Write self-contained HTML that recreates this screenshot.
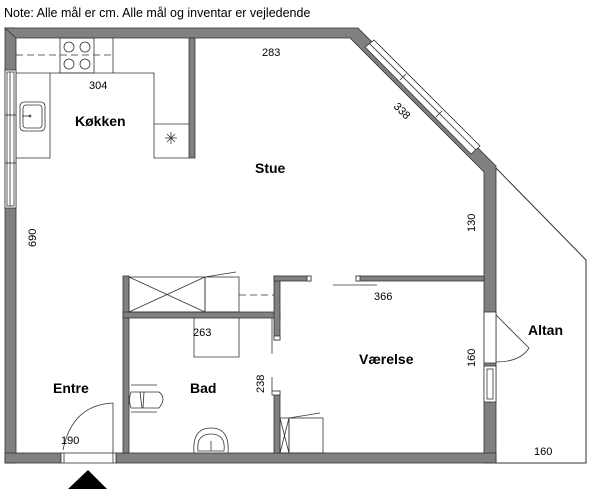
<!DOCTYPE html>
<html><head><meta charset="utf-8"><style>
html,body{margin:0;padding:0;background:#fff;width:600px;height:494px;overflow:hidden}
svg{display:block}
text{font-family:"Liberation Sans",sans-serif;fill:#000}
.b{font-weight:bold;font-size:14px}
.s{font-size:11px}
</style></head><body>
<svg width="600" height="494" viewBox="0 0 600 494" xmlns="http://www.w3.org/2000/svg">
<text x="4" y="17" font-size="12.5">Note: Alle mål er cm. Alle mål og inventar er vejledende</text>
<g fill="#808080" stroke="#333" stroke-width="0.8">
<!-- outer walls -->
<rect x="5" y="28" width="11" height="435"/>
<polygon points="5,28 358,28 496,166 496,463 484,463 484,172 350,38 16,38"/>
<rect x="5" y="453" width="56" height="10"/>
<rect x="116" y="453" width="380" height="10"/>
<!-- kitchen wall -->
<rect x="189" y="38" width="6" height="120"/>
<!-- interior -->
<rect x="123" y="276" width="6" height="177"/>
<rect x="123" y="312" width="157" height="6"/>
<rect x="274" y="276" width="6" height="64"/>
<rect x="274" y="276" width="37" height="5"/>
<rect x="274" y="391" width="6" height="62"/>
<rect x="356" y="276" width="128" height="5"/>
</g>
<!-- windows -->
<g fill="#fff" stroke="#333" stroke-width="0.8">
<rect x="5" y="70" width="11" height="138"/>
<rect x="7" y="72" width="7" height="134"/>
<rect x="484" y="312" width="12" height="51"/>
<rect x="484" y="366" width="12" height="36"/>
<rect x="487" y="369" width="6" height="30"/>
<rect x="61" y="453" width="55" height="10"/>
<polygon points="365,47 374,40 480,146 471,154"/>
<rect x="272" y="391" width="8" height="4"/>
<rect x="274" y="336" width="6" height="4"/>
<rect x="307" y="276" width="4" height="5"/>
<rect x="356" y="276" width="4" height="5"/>
</g>
<g stroke="#333" stroke-width="0.8" fill="none">
<line x1="10" y1="72" x2="10" y2="206"/>
<line x1="5" y1="115" x2="16" y2="115"/><line x1="5" y1="163" x2="16" y2="163"/>
<line x1="369" y1="43" x2="476" y2="150"/>
<line x1="64" y1="453" x2="64" y2="463"/><line x1="113" y1="453" x2="113" y2="463"/>
<line x1="400" y1="80" x2="406" y2="74"/><line x1="436" y1="117" x2="442" y2="111"/>
<!-- kitchen -->
<polyline points="16,73 50,73 50,158 16,158"/>
<polyline points="50,73 154,73 154,158 189,158"/>
<line x1="154" y1="124" x2="189" y2="124"/>
<line x1="113" y1="38" x2="113" y2="73"/>
<rect x="60" y="38" width="34" height="35"/>
<line x1="16" y1="55" x2="113" y2="55" stroke-dasharray="7,4"/>
<circle cx="69" cy="47" r="5"/><circle cx="85" cy="47" r="5"/>
<circle cx="69" cy="64" r="5"/><circle cx="85" cy="64" r="5"/>
<rect x="20" y="102" width="25" height="29" rx="4"/>
<rect x="23" y="105" width="19" height="23" rx="3"/>
<line x1="22" y1="116" x2="30" y2="116"/><circle cx="30" cy="116" r="1"/>
<line x1="165" y1="138" x2="177" y2="138"/><line x1="171" y1="132" x2="171" y2="144"/>
<line x1="167" y1="134" x2="175" y2="142"/><line x1="175" y1="134" x2="167" y2="142"/>
<!-- storage over bad -->
<rect x="129" y="277" width="76" height="35"/>
<line x1="129" y1="277" x2="205" y2="312"/><line x1="205" y1="277" x2="129" y2="312"/>
<rect x="205" y="277" width="34" height="35"/>
<line x1="205" y1="277" x2="236" y2="272"/>
<line x1="239" y1="295" x2="274" y2="295" stroke-dasharray="7,4"/>
<polyline points="194,318 194,357 239,357 239,318"/>
<line x1="272" y1="318" x2="272" y2="354"/>
<line x1="272" y1="377" x2="272" y2="391"/>
<line x1="333" y1="285" x2="377" y2="285"/>
<!-- bad fixtures -->
<path d="M131,392 L159,392 Q167,398 159,408 L131,408 Q128,400 131,392 Z"/>
<line x1="131" y1="385" x2="157" y2="385"/><line x1="131" y1="412" x2="157" y2="412"/>
<line x1="140" y1="392" x2="142" y2="408"/><line x1="144" y1="392" x2="143" y2="408"/>
<path d="M194,453 Q192,428 211,428 Q230,428 228,453"/>
<path d="M198,451 Q196,434 211,434 Q226,434 224,451 Z"/>
<line x1="211" y1="441" x2="211" y2="451"/>
<rect x="280" y="418" width="9" height="35"/>
<line x1="280" y1="418" x2="289" y2="453"/><line x1="289" y1="418" x2="280" y2="453"/>
<rect x="289" y="418" width="34" height="35"/>
<line x1="289" y1="418" x2="320" y2="413"/>
<!-- entre door -->
<line x1="113" y1="403" x2="113" y2="453"/>
<path d="M113,403 Q72,405 63,450"/>
<!-- altan -->
<polyline points="496,168 586,260 586,463 496,463" stroke-width="1"/>
<line x1="496" y1="315" x2="529" y2="348"/>
<path d="M529,348 Q520,362 496,362"/>
</g>
<polygon points="68,489 107,489 88,470" fill="#000"/>
<g class="s">
<text x="262" y="56">283</text>
<text x="89" y="89">304</text>
<text x="374" y="300">366</text>
<text x="193" y="336">263</text>
<text x="534" y="455">160</text>
<text x="61" y="444">190</text>
<text transform="translate(36,247) rotate(-90)">690</text>
<text transform="translate(475,232) rotate(-90)">130</text>
<text transform="translate(475,367) rotate(-90)">160</text>
<text transform="translate(264,393) rotate(-90)">238</text>
<text transform="translate(393,107) rotate(45)">338</text>
</g>
<g class="b">
<text x="75" y="126">Køkken</text>
<text x="255" y="173">Stue</text>
<text x="359" y="364">Værelse</text>
<text x="528" y="335">Altan</text>
<text x="190" y="393">Bad</text>
<text x="53" y="393">Entre</text>
</g>
</svg>
</body></html>
